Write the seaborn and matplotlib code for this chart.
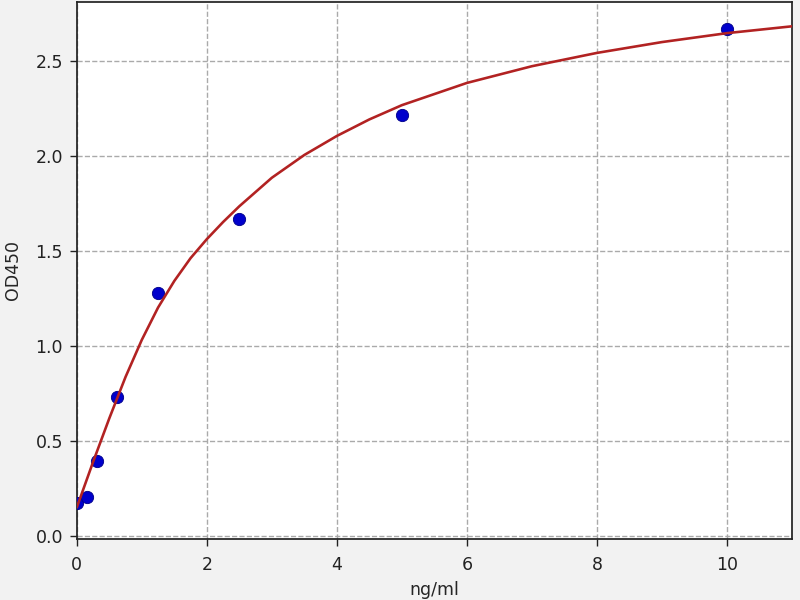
import numpy as np
import pandas as pd
import matplotlib
matplotlib.use("Agg")
import matplotlib.pyplot as plt
import seaborn as sns

# standard points (concentration, OD)
conc = [0.0, 0.156, 0.3125, 0.625, 1.25, 2.5, 5.0, 10.0]
od = [0.174, 0.207, 0.395, 0.733, 1.28, 1.67, 2.214, 2.67]

# fitted curve
curve_x = [0.0, 0.25, 0.5, 0.75, 1.0, 1.25, 1.5, 1.75, 2.0, 2.25, 2.5,
           3.0, 3.5, 4.0, 4.5, 5.0, 6.0, 7.0, 8.0, 9.0, 10.0, 11.0]
curve_y = [0.150, 0.389, 0.619, 0.837, 1.032, 1.202, 1.342, 1.462, 1.562,
           1.652, 1.735, 1.885, 2.005, 2.105, 2.192, 2.267, 2.384, 2.472,
           2.542, 2.599, 2.646, 2.682]

pts = pd.DataFrame({"ng/ml": conc, "OD450": od})
fit = pd.DataFrame({"ng/ml": curve_x, "OD450": curve_y})

sns.set_style("ticks")
plt.rcParams['font.family'] = ['DejaVu Sans']

fig = plt.figure(figsize=(6.4, 4.8), dpi=125, facecolor="#f2f2f2")
ax = fig.add_axes([0.096, 0.1017, 0.894, 0.895])
ax.set_facecolor("white")

sns.scatterplot(data=pts, x="ng/ml", y="OD450", ax=ax, color="#0000cc",
                s=50, edgecolor="#00008b", linewidth=0.5, zorder=3)
sns.lineplot(data=fit, x="ng/ml", y="OD450", ax=ax, color="#b22222",
             linewidth=1.5, zorder=4)

ax.set_xlim(0, 11)
ax.set_ylim(-0.016, 2.81)
ax.set_xticks([0, 2, 4, 6, 8, 10])
ax.set_yticks([0.0, 0.5, 1.0, 1.5, 2.0, 2.5])
ax.grid(True, linestyle="--", color="#aaaaaa", linewidth=0.8)
ax.set_axisbelow(True)
for sp in ax.spines.values():
    sp.set_color("#222222")
    sp.set_linewidth(1.0)
    sp.set_visible(True)
ax.tick_params(labelsize=10, colors="#222222", length=4, pad=4)
ax.tick_params(axis="x", pad=6)
ax.set_xlabel("ng/ml", fontsize=10, labelpad=4)
ax.set_ylabel("OD450", fontsize=10, labelpad=8)

fig.savefig("out.png", dpi=125, facecolor=fig.get_facecolor())
